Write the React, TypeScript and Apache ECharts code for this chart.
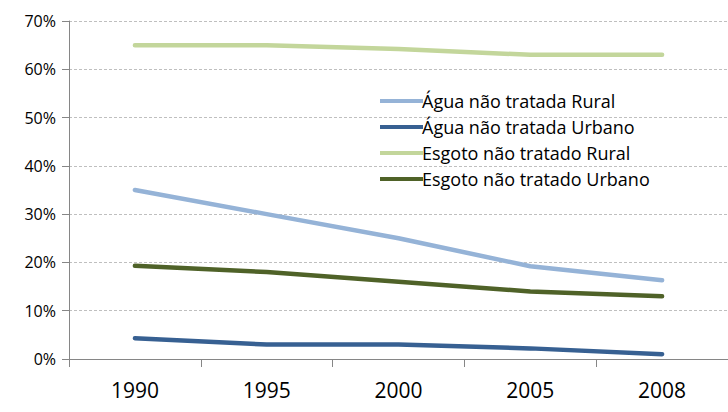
import React, { useEffect, useRef } from "react";
import * as echarts from "echarts";

const years = ["1990", "1995", "2000", "2005", "2008"];
const aguaRural = [35, 30, 25, 19.2, 16.3];
const aguaUrbano = [4.3, 3, 3, 2.2, 1];
const esgotoRural = [65, 65, 64.2, 63, 63];
const esgotoUrbano = [19.3, 18, 16, 14, 13];
const seriesNames = [
  "Água não tratada Rural",
  "Água não tratada Urbano",
  "Esgoto não tratado Rural",
  "Esgoto não tratado Urbano",
];
const colors = ["#95B3D7", "#376092", "#C3D69B", "#4F6228"];

export default function App() {
  const ref = useRef<HTMLDivElement>(null);
  useEffect(() => {
    if (!ref.current) return;
    const chart = echarts.init(ref.current, null, { renderer: "svg" });
    const data = [aguaRural, aguaUrbano, esgotoRural, esgotoUrbano];
    chart.setOption({
      animation: false,
      backgroundColor: "#fff",
      grid: { left: 69, right: -11, top: 21, bottom: 53 },
      legend: {
        orient: "vertical",
        left: 375,
        top: 87,
        icon: "rect",
        itemWidth: 43,
        itemHeight: 4,
        itemGap: 8,
        textStyle: { fontFamily: "Open Sans", fontSize: 18, color: "#000", padding: [0, 0, 0, -6] },
        data: seriesNames,
      },
      xAxis: {
        type: "category",
        data: years,
        boundaryGap: true,
        axisLine: { lineStyle: { color: "#868686", width: 1 } },
        axisTick: { show: true, length: 8, lineStyle: { color: "#868686" } },
        axisLabel: { fontFamily: "Open Sans", fontSize: 21, color: "#000", margin: 20 },
      },
      yAxis: {
        type: "value",
        min: 0,
        max: 70,
        interval: 10,
        axisLine: { show: true, lineStyle: { color: "#868686" } },
        axisTick: { show: true, length: 7, lineStyle: { color: "#868686" } },
        axisLabel: {
          formatter: "{value}%",
          fontFamily: "Open Sans",
          fontSize: 16,
          color: "#000",
          margin: 13,
        },
        splitLine: { lineStyle: { color: "#BFBFBF", type: [3, 2], width: 1 } },
      },
      series: seriesNames.map((name, i) => ({
        name,
        type: "line",
        data: data[i],
        symbol: "none",
        lineStyle: { color: colors[i], width: 4.5, cap: "round" },
        itemStyle: { color: colors[i] },
      })),
    });
    return () => chart.dispose();
  }, []);
  return <div ref={ref} style={{ width: 728, height: 412, position: "absolute", left: 0, top: 0 }} />;
}
